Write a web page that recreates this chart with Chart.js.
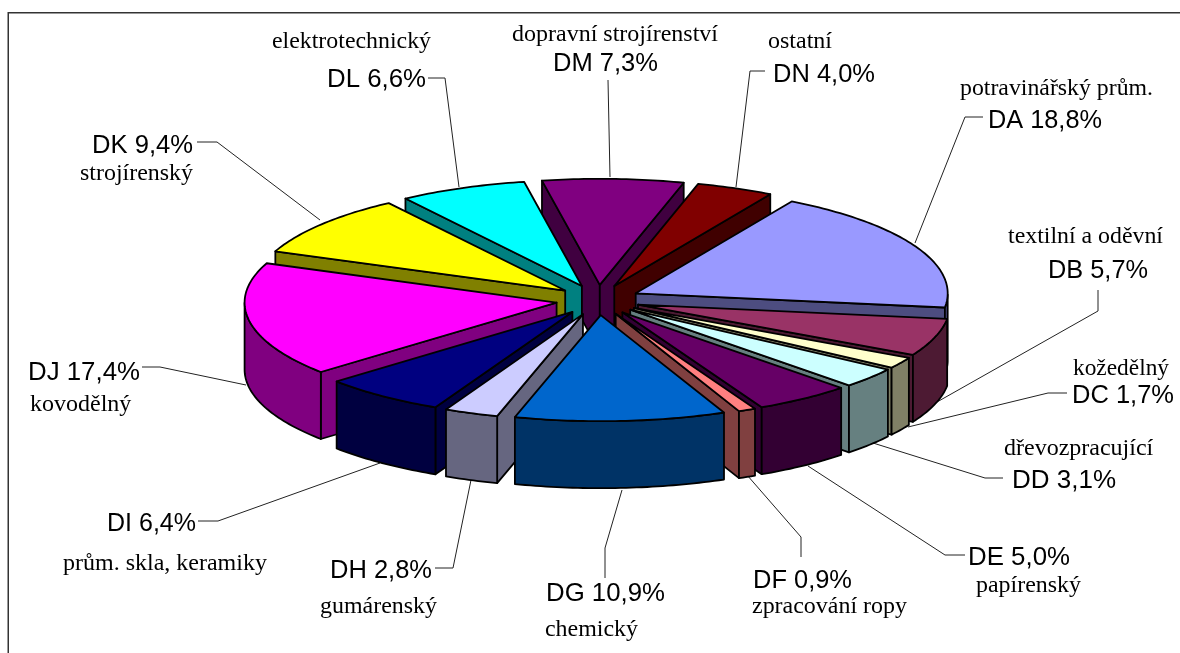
<!DOCTYPE html>
<html lang="cs">
<head>
<meta charset="utf-8">
<title>Zpracovatelský průmysl</title>
<style>html,body{margin:0;padding:0;background:#fff}canvas{display:block}</style>
<script src="https://cdn.jsdelivr.net/npm/chart.js@4/dist/chart.umd.min.js"></script>
</head>
<body>
<canvas id="c" width="1180" height="653"></canvas>
<script>
const codes = ['DA','DB','DC','DD','DE','DF','DG','DH','DI','DJ','DK','DL','DM','DN'];
const shares = [18.8,5.7,1.7,3.1,5.0,0.9,10.9,2.8,6.4,17.4,9.4,6.6,7.3,4.0];
const names = ['potravinářský prům.','textilní a oděvní','kožedělný','dřevozpracující','papírenský','zpracování ropy','chemický','gumárenský','prům. skla, keramiky','kovodělný','strojírenský','elektrotechnický','dopravní strojírenství','ostatní'];
const topColors = ['#9999FF','#993366','#FFFFCC','#CCFFFF','#660066','#FF8080','#0066CC','#CCCCFF','#000080','#FF00FF','#FFFF00','#00FFFF','#800080','#800000'];
const wallColors = ['#4D4D80','#4D1A33','#808066','#668080','#330033','#804040','#003366','#666680','#000040','#800080','#808000','#008080','#400040','#400000'];

// Layout of the annotations: [left x, baseline y, width]
const codeSpots = [[988,128,114],[1048,278,100],[1072,403,102],[1012,488,105],[968,565,102],[753,588,99],[546,601,119],[330,578,102],[107,531,89],[28,380,112],[92,153,101],[327,87,99],[553,71,105],[773,82,102]];
const nameSpots = [[960,95,193],[1008,243,155],[1073,375,96],[1004,455,154],[976,592,105],[752,613,155],[545,636,93],[320,613,117],[63,570,204],[30,411,103],[80,180,113],[272,48,159],[512,41,209],[768,48,64]];
const leaderPaths = [
  [[983,117],[965,117],[915,243]],
  [[1098,290],[1098,311],[937,402]],
  [[1067,393],[1048,393],[908,427]],
  [[1003,478],[985,478],[873,443]],
  [[965,555],[945,555],[808,466]],
  [[801,557],[801,537],[747,475]],
  [[605,578],[605,548],[622,490]],
  [[435,568],[453,568],[471,480]],
  [[198,521],[218,521],[380,463]],
  [[142,367],[160,367],[246,385]],
  [[197,142],[217,142],[320,220]],
  [[428,78],[445,78],[459,187]],
  [[608,80],[610,177]],
  [[765,71],[750,71],[736,187]]
];

const TILT = 0.34, SHIFT_TILT = 0.36, DEPTH = 67;

function tracePoly(ctx, pts){
  ctx.beginPath();
  pts.forEach((p,i)=> i ? ctx.lineTo(p[0],p[1]) : ctx.moveTo(p[0],p[1]));
  ctx.closePath();
}
function paint(ctx, pts, fill){
  tracePoly(ctx, pts);
  ctx.fillStyle = fill;
  ctx.fill();
  ctx.strokeStyle = '#000';
  ctx.lineWidth = 1.8;
  ctx.lineJoin = 'round';
  ctx.stroke();
}

const pie3d = {
  id: 'pie3d',
  beforeDraw(chart){
    const ctx = chart.ctx;
    ctx.save();
    ctx.strokeStyle = '#333';
    ctx.lineWidth = 1.5;
    ctx.beginPath();
    ctx.moveTo(8.25, 653);
    ctx.lineTo(8.25, 12.75);
    ctx.lineTo(1180, 12.75);
    ctx.stroke();
    ctx.strokeStyle = '#222';
    ctx.lineWidth = 1;
    leaderPaths.forEach(path=>{
      ctx.beginPath();
      path.forEach((p,i)=> i ? ctx.lineTo(p[0],p[1]) : ctx.moveTo(p[0],p[1]));
      ctx.stroke();
    });
    ctx.restore();
  },
  beforeDatasetDraw(chart, args){
    const ctx = chart.ctx;
    const arcs = chart.getDatasetMeta(args.index).data;
    const order = arcs.map((a,i)=>i).sort((p,q)=>{
      const mid = a => (a.startAngle + a.endAngle)/2;
      return Math.sin(mid(arcs[p])) - Math.sin(mid(arcs[q]));
    });
    ctx.save();
    order.forEach(i=>{
      const a = arcs[i];
      const mid = (a.startAngle + a.endAngle)/2;
      const off = a.options.offset;
      const ox = a.x + Math.cos(mid)*off;
      const oy = a.y + Math.sin(mid)*off*SHIFT_TILT;
      const R = a.outerRadius;
      const at = (t)=>[ox + Math.cos(t)*R, oy + Math.sin(t)*R*TILT];
      const down = (p)=>[p[0], p[1]+DEPTH];
      const apex = [ox, oy];
      const sA = a.startAngle, eA = a.endAngle;
      const p0 = at(sA), p1 = at(eA);
      // inner cut faces that look towards the viewer
      if (Math.cos(sA) < 0) paint(ctx,[apex,p0,down(p0),down(apex)],wallColors[i]);
      if (Math.cos(eA) > 0) paint(ctx,[apex,p1,down(p1),down(apex)],wallColors[i]);
      // outer rim: only the part on the near half of the pie
      const rim = [];
      const steps = Math.max(2, Math.ceil((eA-sA)/(Math.PI/180)));
      for (let s=0;s<=steps;s++){
        const t = sA + (eA-sA)*s/steps;
        if (Math.sin(t) >= -0.0001) rim.push(at(t));
      }
      if (rim.length>1) paint(ctx, rim.concat(rim.slice().reverse().map(down)), wallColors[i]);
      // top face
      const top = [apex];
      for (let s=0;s<=steps;s++) top.push(at(sA + (eA-sA)*s/steps));
      paint(ctx, top, a.options.backgroundColor);
    });
    ctx.restore();
    return false;
  },
  afterDraw(chart){
    const ctx = chart.ctx;
    ctx.save();
    ctx.fillStyle = '#000';
    ctx.textBaseline = 'alphabetic';
    ctx.textAlign = 'left';
    codes.forEach((code,i)=>{
      const s = code + ' ' + shares[i].toFixed(1).replace('.',',') + '%';
      ctx.font = '26px "Liberation Sans"';
      ctx.fillText(s, codeSpots[i][0], codeSpots[i][1], codeSpots[i][2]);
      ctx.font = '24px "Liberation Serif"';
      ctx.fillText(names[i], nameSpots[i][0], nameSpots[i][1], nameSpots[i][2]);
    });
    ctx.restore();
  }
};

new Chart(document.getElementById('c'),{
  type:'pie',
  data:{
    labels: codes,
    datasets:[{
      data: shares,
      backgroundColor: topColors,
      offset: codes.map(()=>42),
      borderWidth: 0
    }]
  },
  options:{
    responsive:false,
    animation:false,
    rotation:30,
    radius:312,
    layout:{padding:{left:16,bottom:53}},
    plugins:{legend:{display:false},tooltip:{enabled:false},title:{display:false}}
  },
  plugins:[pie3d]
});
</script>
</body>
</html>
